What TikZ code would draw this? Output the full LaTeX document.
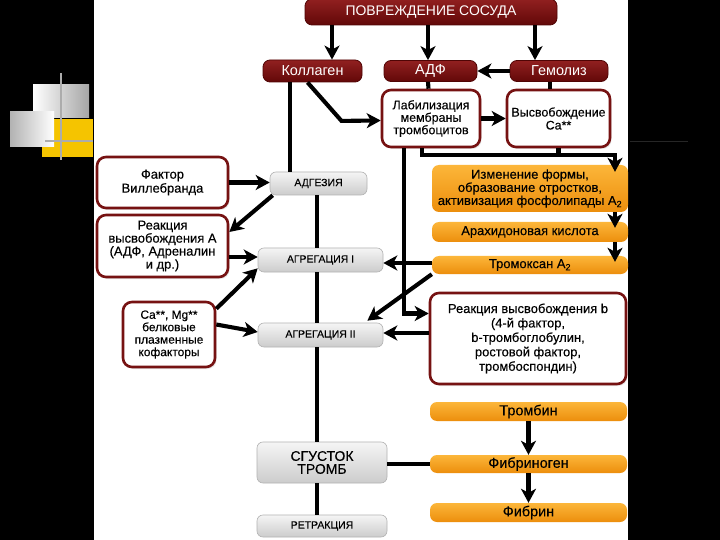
\documentclass[tikz,border=0pt]{standalone}
\usepackage{fontspec}
\setmainfont{Liberation Sans}
\newfontfamily\dk{Liberation Sans}[FakeBold=0.25]
\usetikzlibrary{arrows.meta,shadows}
\definecolor{dred}{RGB}{118,18,18}
\definecolor{dredT}{RGB}{145,32,32}
\definecolor{dredB}{RGB}{98,8,8}
\definecolor{dredD}{RGB}{80,5,5}
\definecolor{orT}{RGB}{252,182,58}
\definecolor{orB}{RGB}{236,142,12}
\definecolor{yel}{RGB}{245,196,0}
\begin{document}
\begin{tikzpicture}[x=1bp,y=-1bp,
  redbox/.style={rectangle, rounded corners=7bp, top color=dredT, bottom color=dredB, draw=dredD, line width=0.8bp, text=white, inner sep=0pt, font=\fontsize{14.5}{15}\selectfont},
  wbox/.style={rectangle, rounded corners=9bp, draw=dred, line width=2.6bp, fill=white, align=center, inner sep=0pt, drop shadow={shadow xshift=1.5bp, shadow yshift=-2bp, opacity=0.18}},
  gbox/.style={rectangle, rounded corners=6bp, top color=gray!8, bottom color=gray!40, draw=gray!60, line width=0.6bp, align=center, inner sep=0pt, font=\dk\fontsize{10.5}{11}\selectfont},
  obox/.style={rectangle, rounded corners=7bp, top color=orT, bottom color=orB, align=center, inner sep=0pt, font=\dk\fontsize{13}{12}\selectfont},
  arr/.style={line width=4.1bp, -{Stealth[length=14bp,width=15bp,inset=4bp]}},
  ln/.style={line width=4.1bp}
]
\clip (0,0) rectangle (720,540);
\fill[black] (0,0) rectangle (720,540);
\fill[white] (94,0) rectangle (628,540);
% decorations
\shade[left color=white, right color=gray!70] (33,85) rectangle (89,118);
\fill[yel] (42,119) rectangle (93,157);
\shade[left color=gray!60, right color=white] (10,112) rectangle (54,147);
\draw[gray!65, line width=2.5bp] (61,73) -- (61,160);
\draw[gray!65, line width=2bp] (45,141) -- (93,141);
\draw[gray!30!black, line width=1bp] (630,142) -- (688,142);

% top row
\node[redbox, minimum width=252bp, minimum height=26bp, font=\fontsize{14}{15}\selectfont] (top) at (431,12) {ПОВРЕЖДЕНИЕ СОСУДА};
\node[redbox, minimum width=99bp, minimum height=22bp] (koll) at (312.5,71) {Коллаген};
\node[redbox, minimum width=93bp, minimum height=21bp] (adf) at (430.5,71) {АДФ};
\node[redbox, minimum width=98bp, minimum height=21bp] (gem) at (559,71) {Гемолиз};

\node[wbox, minimum width=98bp, minimum height=57bp, font=\dk\fontsize{12.5}{12.5}\selectfont] (lab) at (431,118.5) {Лабилизация\\мембраны\\тромбоцитов};
\node[wbox, minimum width=103bp, minimum height=57bp, font=\dk\fontsize{12.5}{13}\selectfont] (vys) at (558.5,118.5) {Высвобождение\\Ca**};

% left column
\node[wbox, minimum width=131bp, minimum height=51bp, font=\dk\fontsize{13}{14}\selectfont] (fak) at (162.5,182.5) {Фактор\\Виллебранда};
\node[wbox, minimum width=131bp, minimum height=62bp, font=\dk\fontsize{13}{11.5}\selectfont] (rela) at (162.5,246) {Реакция\\высвобождения А\\(АДФ, Адреналин\\и др.)};
\node[wbox, minimum width=92bp, minimum height=65bp, font=\dk\fontsize{12}{12.5}\selectfont] (ca) at (169,334.5) {Ca**, Mg**\\белковые\\плазменные\\кофакторы};

% middle column
\node[gbox, minimum width=97bp, minimum height=23bp] (adg) at (318.5,183.5) {АДГЕЗИЯ};
\node[gbox, minimum width=125bp, minimum height=24bp] (agg1) at (320.5,260) {АГРЕГАЦИЯ I};
\node[gbox, minimum width=125bp, minimum height=24bp] (agg2) at (320.5,335) {АГРЕГАЦИЯ II};
\node[gbox, minimum width=130bp, minimum height=41bp, font=\dk\fontsize{14}{13}\selectfont] (clot) at (322,462.5) {СГУСТОК\\ТРОМБ};
\node[gbox, minimum width=130bp, minimum height=22bp] (retr) at (322,526) {РЕТРАКЦИЯ};

% right column
\node[obox, minimum width=196bp, minimum height=47bp, font=\dk\fontsize{13}{11.5}\selectfont] (izm) at (530,188.5) {Изменение формы,\\образование отростков,\\активизация фосфолипады A\textsubscript{2}};
\node[obox, minimum width=196bp, minimum height=20bp] (arah) at (530,232) {Арахидоновая кислота};
\node[obox, minimum width=196bp, minimum height=18bp] (trx) at (530,265) {Тромоксан A\textsubscript{2}};
\node[wbox, minimum width=196bp, minimum height=91bp, font=\dk\fontsize{13}{14.5}\selectfont] (relb) at (528,338.5) {Реакция высвобождения b\\(4-й фактор,\\b-тромбоглобулин,\\ростовой фактор,\\тромбоспондин)};
\node[obox, minimum width=197bp, minimum height=19bp, font=\dk\fontsize{14.5}{15}\selectfont] (thr) at (528.5,411.5) {Тромбин};
\node[obox, minimum width=197bp, minimum height=18bp, font=\dk\fontsize{14.5}{15}\selectfont] (fbg) at (528.5,464) {Фибриноген};
\node[obox, minimum width=197bp, minimum height=19bp, font=\dk\fontsize{14.5}{15}\selectfont] (fbn) at (528.5,512.5) {Фибрин};

% connectors from top
\coordinate (k1) at ([xshift=19.5bp]koll.north);
\draw[arr] (top.south -| k1) -- (k1);
\coordinate (a1) at ([xshift=-2.5bp]adf.north);
\draw[arr] (top.south -| a1) -- (a1);
\coordinate (g1) at ([xshift=-24bp]gem.north);
\draw[arr] (top.south -| g1) -- (g1);

\draw[arr] (gem.west) -- (adf.east);
\draw[ln] ([xshift=-2.5bp]adf.south) -- ([xshift=-2.5bp]lab.north);
\coordinate (g2) at ([xshift=-9bp]gem.south);
\draw[ln] (g2) -- (g2 |- vys.north);
\draw[arr] (lab.east) -- (vys.west);
\draw[arr] ([xshift=-5bp]koll.south) -- ++(34,38.5) -- ([yshift=-2bp]lab.west);

\coordinate (ka) at ([xshift=-22.5bp]koll.south);
\draw[ln] (ka) -- (ka |- adg.north);

% spine
\coordinate (sp) at ([xshift=-1.5bp]adg.south);
\draw[ln] (sp) -- (sp |- agg1.north);
\draw[ln] (sp |- agg1.south) -- (sp |- agg2.north);
\draw[ln] (sp |- agg2.south) -- (sp |- clot.north);
\draw[ln] (sp |- clot.south) -- (sp |- retr.north);

% from Лабилизация
\draw[arr] ([xshift=-27bp]lab.south) |- ([yshift=25bp]relb.west);
\coordinate (iz) at ([xshift=85bp,yshift=-7bp]izm.north);
\draw[arr] ([xshift=-9bp]lab.south) -- ++(0,7) -| (iz);
\draw[ln] (vys.south) -- ++(0,9);

% right chain
\draw[arr] ([xshift=85bp]izm.south) -- ([xshift=85bp,yshift=-6bp]arah.north);
\draw[arr] ([xshift=85bp]arah.south) -- ([xshift=85bp,yshift=-6bp]trx.north);
\draw[arr] ([yshift=2bp]trx.west) -- ([yshift=2bp]trx.west -| agg1.east);
\draw[arr] (trx.south west) -- ([xshift=-16bp,yshift=2bp]agg2.north east);
\draw[arr] ([yshift=2bp]agg2.east -| relb.west) -- ([yshift=2bp]agg2.east);
\draw[ln] (fbg.west) -- (fbg.west -| clot.east);
\draw[arr] (thr.south) -- (fbg.north);
\draw[arr] (fbg.south) -- (fbn.north);

% left arrows
\draw[arr] (fak.east) -- (fak.east -| adg.west);
\draw[arr] ([xshift=3bp]adg.south west) -- ([yshift=14bp]rela.east);
\draw[arr] ([yshift=-11bp]rela.east) -- ([yshift=-11bp]rela.east -| agg1.west);
\draw[arr] ([yshift=-8bp]ca.north east) -- ([yshift=4bp]agg1.south west);
\draw[arr] ([yshift=10bp]ca.east) -- ([yshift=3bp]agg2.west);
\end{tikzpicture}
\end{document}
